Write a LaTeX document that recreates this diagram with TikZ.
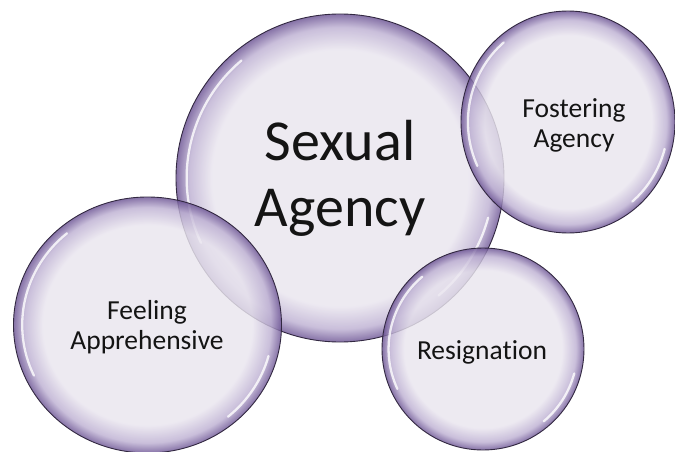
\documentclass[tikz,border=0pt]{standalone}
\usepackage{fontspec}
\setmainfont{Carlito}[RawFeature=-liga]
\usetikzlibrary{shapes.geometric}
\definecolor{bubin}{RGB}{234,230,239}
\definecolor{bubmid}{RGB}{190,177,211}
\definecolor{bubrim}{RGB}{108,84,148}
\definecolor{bubline}{RGB}{50,40,65}
\definecolor{txt}{RGB}{20,20,20}
\pgfdeclareradialshading{bubshade}{\pgfpoint{0bp}{0bp}}{color(0bp)=(bubin); color(19.5bp)=(bubin); color(23bp)=(bubmid); color(25bp)=(bubrim); color(50bp)=(bubrim)}
\tikzset{
  bubble/.style={ellipse, inner sep=0pt, shading=bubshade, fill opacity=0.82, draw=bubline, draw opacity=1, line width=0.9pt},
  hilite/.style={white, line width=2.3pt, line cap=round, opacity=0.8},
  lbl/.style={text=txt, align=center, inner sep=0pt},
}
\newcommand\drawbubble[5]{%
  \node[bubble, minimum width={(2*#4)*1pt}, minimum height={(2*#5)*1pt}] (#1) at (#2,#3) {};
  \draw[hilite] (#2,#3) ++(-205:{0.935*#4} and {0.935*#5}) arc[start angle=-205, end angle=-130, x radius={0.935*#4}, y radius={0.935*#5}];
  \draw[hilite] (#2,#3) ++(15:{0.935*#4} and {0.935*#5}) arc[start angle=15, end angle=50, x radius={0.935*#4}, y radius={0.935*#5}];
}
\begin{document}
\begin{tikzpicture}[x=1pt,y=-1pt]
\useasboundingbox[fill=white] (0,0) rectangle (675,452);
\drawbubble{sa}{340}{178}{164}{164}
\drawbubble{fa}{568}{122}{107}{111}
\drawbubble{fe}{147.5}{325}{134}{128}
\drawbubble{re}{483}{349}{101}{101}
\node[lbl, font=\fontsize{58}{66}\selectfont] (tsa) at (340,178) {Sexual\\Agency};
\node[lbl, font=\fontsize{27.5}{30}\selectfont] (tfa) at (574,125) {Fostering\\Agency};
\node[lbl, font=\fontsize{27.5}{30}\selectfont] (tfe) at (147,327) {Feeling\\Apprehensive};
\node[lbl, font=\fontsize{27.5}{30}\selectfont] (tre) at (482,352) {Resignation};
\end{tikzpicture}
\end{document}
